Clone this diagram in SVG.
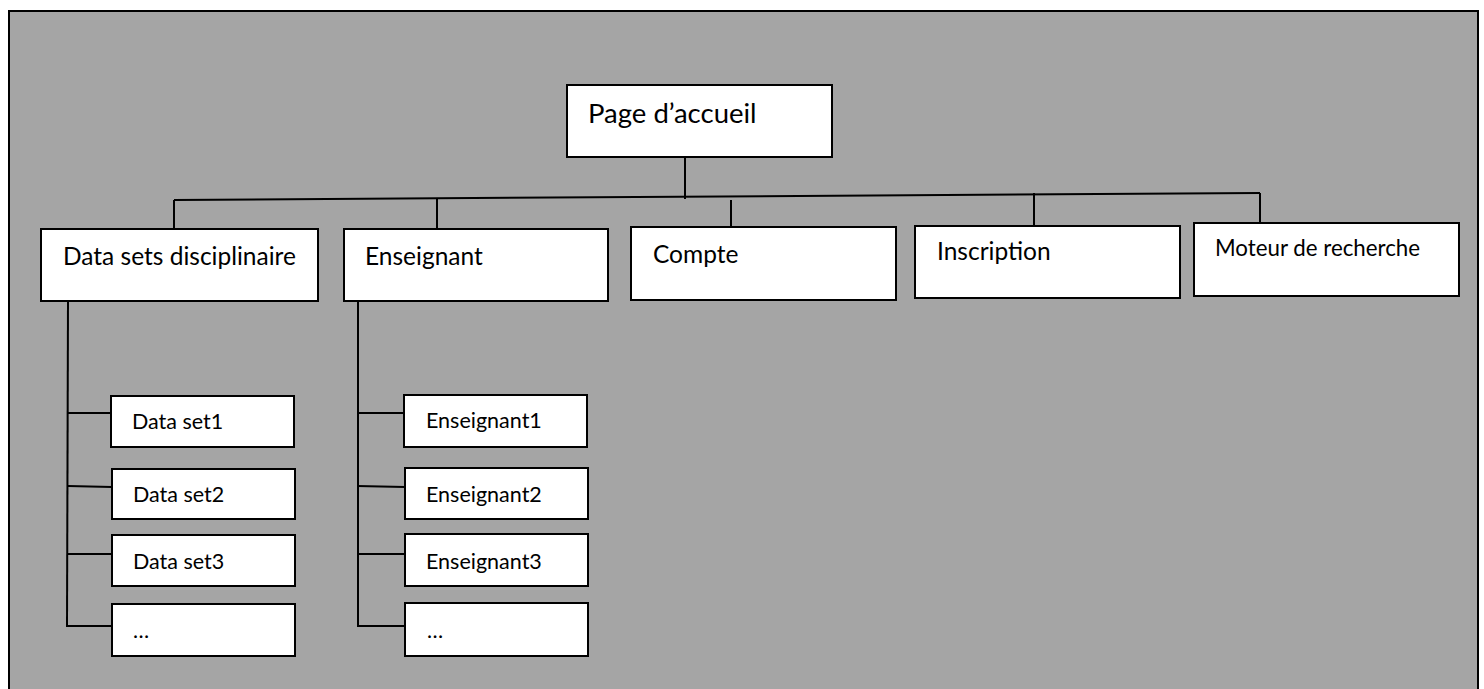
<svg xmlns="http://www.w3.org/2000/svg" width="1484" height="689" viewBox="0 0 1484 689">
<style>
.box{fill:#fff;stroke:#000;stroke-width:2}
.ln{stroke:#000;stroke-width:2;fill:none}
text{font-family:Lato,"Open Sans",sans-serif;fill:#000}
.t1{font-size:27.5px}
.t2{font-size:24.5px}
.t3{font-size:22.3px}
.t4{font-size:21.5px}
</style>
<rect x="0" y="0" width="1484" height="689" fill="#fff"/>
<rect x="9" y="11" width="1469" height="700" fill="#a5a5a5" stroke="#000" stroke-width="2"/>
<g id="connectors">
<line class="ln" x1="685" y1="157" x2="685" y2="199"/>
<line class="ln" x1="174" y1="200" x2="1260" y2="193"/>
<line class="ln" x1="174" y1="200" x2="174" y2="229"/>
<line class="ln" x1="437" y1="198" x2="437" y2="229"/>
<line class="ln" x1="731" y1="200" x2="731" y2="227"/>
<line class="ln" x1="1034" y1="193" x2="1034" y2="229"/>
<line class="ln" x1="1260" y1="193" x2="1260" y2="223"/>
<line class="ln" x1="68" y1="301" x2="67" y2="626"/>
<line class="ln" x1="68" y1="413" x2="111" y2="413"/>
<line class="ln" x1="68" y1="486" x2="112" y2="487"/>
<line class="ln" x1="67" y1="554" x2="112" y2="554"/>
<line class="ln" x1="66" y1="626" x2="112" y2="626"/>
<line class="ln" x1="358" y1="301" x2="358" y2="626"/>
<line class="ln" x1="357" y1="413" x2="404" y2="413"/>
<line class="ln" x1="357" y1="486" x2="405" y2="487"/>
<line class="ln" x1="357" y1="554" x2="405" y2="554"/>
<line class="ln" x1="357" y1="626" x2="405" y2="626"/>
</g>
<g id="page-accueil"><rect class="box" x="567" y="85" width="265" height="72"/><text class="t1" x="588" y="123">Page d’accueil</text></g>
<g id="data-sets"><rect class="box" x="41" y="229" width="277" height="72"/><text class="t2" x="63" y="265">Data sets disciplinaire</text></g>
<g id="enseignant"><rect class="box" x="344" y="229" width="264" height="72"/><text class="t2" x="365" y="265">Enseignant</text></g>
<g id="compte"><rect class="box" x="631" y="227" width="265" height="73"/><text class="t2" x="653" y="263">Compte</text></g>
<g id="inscription"><rect class="box" x="915" y="226" width="265" height="72"/><text class="t2" x="937" y="260">Inscription</text></g>
<g id="moteur"><rect class="box" x="1194" y="223" width="265" height="73"/><text class="t3" x="1215" y="256">Moteur de recherche</text></g>
<g id="data-set1"><rect class="box" x="111" y="396" width="183" height="51"/><text class="t4" x="132" y="429">Data set1</text></g>
<g id="data-set2"><rect class="box" x="112" y="469" width="183" height="50"/><text class="t4" x="133" y="502">Data set2</text></g>
<g id="data-set3"><rect class="box" x="112" y="535" width="183" height="51"/><text class="t4" x="133" y="569">Data set3</text></g>
<g id="data-set-more"><rect class="box" x="112" y="604" width="183" height="52"/><text class="t4" x="133" y="638">…</text></g>
<g id="enseignant1"><rect class="box" x="404" y="395" width="183" height="52"/><text class="t4" x="426" y="428">Enseignant1</text></g>
<g id="enseignant2"><rect class="box" x="405" y="468" width="183" height="51"/><text class="t4" x="426" y="502">Enseignant2</text></g>
<g id="enseignant3"><rect class="box" x="405" y="534" width="183" height="52"/><text class="t4" x="426" y="569">Enseignant3</text></g>
<g id="enseignant-more"><rect class="box" x="405" y="603" width="183" height="53"/><text class="t4" x="427" y="638">…</text></g>
</svg>
